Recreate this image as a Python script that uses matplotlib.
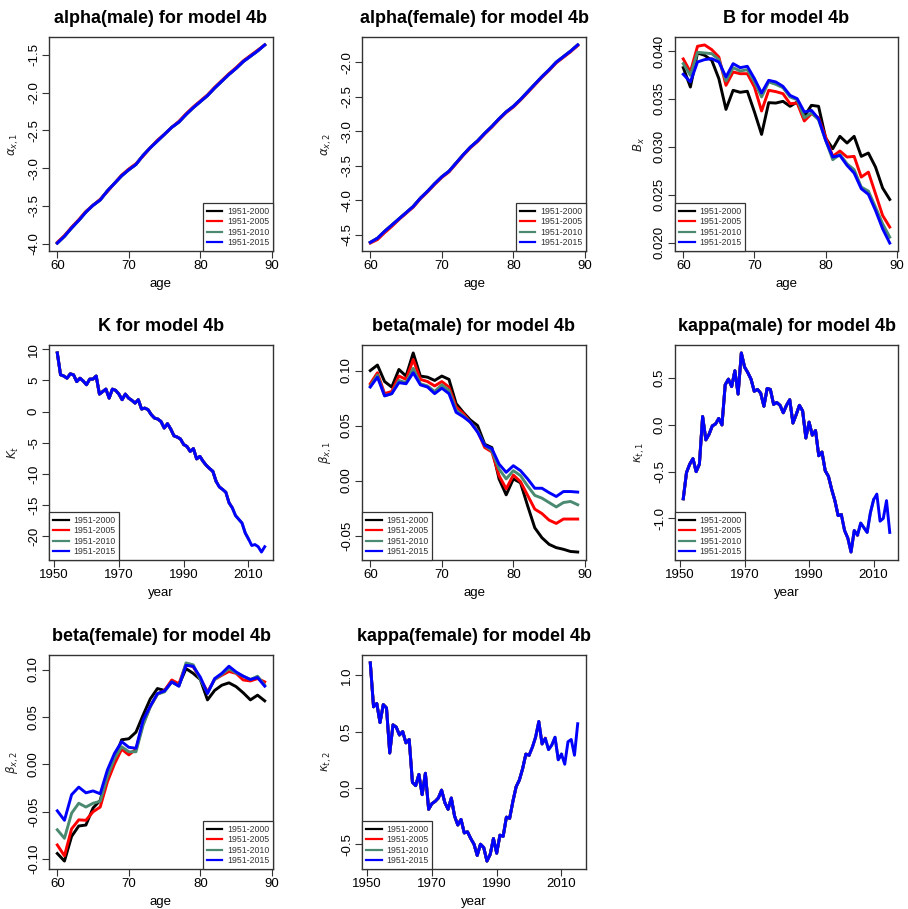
import matplotlib
matplotlib.use("Agg")
import matplotlib.pyplot as plt
import numpy as np
from matplotlib.ticker import FormatStrFormatter, FixedLocator

plt.rcParams['font.family'] = ['Liberation Sans', 'DejaVu Sans']
plt.rcParams['axes.unicode_minus'] = False
plt.rcParams['mathtext.fontset'] = 'dejavusans'

ages = np.arange(60, 90)
years = np.arange(1951, 2016)
periods = ['1951-2000', '1951-2005', '1951-2010', '1951-2015']
end_years = [2000, 2005, 2010, 2015]
colors = ['black', 'red', '#4a8a70', 'blue']

# alpha (male)
alpha_m_a = [-3.99, -3.90, -3.79, -3.69, -3.58, -3.49, -3.42, -3.30, -3.20, -3.10,
             -3.02, -2.95, -2.83, -2.73, -2.64, -2.55, -2.46, -2.39, -2.29, -2.20,
             -2.12, -2.04, -1.94, -1.85, -1.76, -1.68, -1.59, -1.52, -1.45, -1.37]
alpha_m_b = [-3.98, -3.89, -3.78, -3.68, -3.57, -3.49, -3.41, -3.31, -3.20, -3.09,
             -3.01, -2.94, -2.84, -2.73, -2.63, -2.55, -2.46, -2.38, -2.28, -2.19,
             -2.11, -2.03, -1.93, -1.84, -1.75, -1.67, -1.58, -1.51, -1.44, -1.37]
# alpha (female)
alpha_f_a = [-4.61, -4.55, -4.45, -4.36, -4.27, -4.18, -4.09, -3.97, -3.87, -3.76,
             -3.66, -3.58, -3.46, -3.34, -3.23, -3.14, -3.03, -2.93, -2.82, -2.72,
             -2.64, -2.54, -2.43, -2.32, -2.21, -2.11, -2.00, -1.92, -1.84, -1.75]
alpha_f_b = [-4.62, -4.57, -4.47, -4.38, -4.28, -4.19, -4.10, -3.98, -3.88, -3.77,
             -3.67, -3.59, -3.47, -3.35, -3.24, -3.15, -3.04, -2.94, -2.83, -2.73,
             -2.65, -2.55, -2.44, -2.33, -2.22, -2.12, -2.01, -1.93, -1.85, -1.76]

# B_x
B_2000 = [0.03826, 0.03624, 0.03979, 0.03955, 0.03903, 0.03711, 0.03391, 0.03590, 0.03569, 0.03580,
          0.03364, 0.03130, 0.03461, 0.03457, 0.03475, 0.03423, 0.03468, 0.03318, 0.03433, 0.03423,
          0.03092, 0.02981, 0.03110, 0.03040, 0.03110, 0.02901, 0.02936, 0.02790, 0.02571, 0.02452]
B_2005 = [0.03917, 0.03781, 0.04049, 0.04063, 0.04014, 0.03937, 0.03642, 0.03781, 0.03763, 0.03763,
          0.03624, 0.03374, 0.03590, 0.03576, 0.03555, 0.03450, 0.03457, 0.03270, 0.03346, 0.03304,
          0.03103, 0.02901, 0.02957, 0.02894, 0.02901, 0.02685, 0.02737, 0.02511, 0.02285, 0.02164]
B_2010 = [0.03868, 0.03746, 0.03986, 0.03979, 0.03972, 0.03910, 0.03687, 0.03826, 0.03791, 0.03805,
          0.03677, 0.03520, 0.03677, 0.03652, 0.03617, 0.03520, 0.03492, 0.03304, 0.03353, 0.03283,
          0.03068, 0.02866, 0.02922, 0.02824, 0.02762, 0.02581, 0.02539, 0.02372, 0.02198, 0.02059]
B_2015 = [0.03757, 0.03677, 0.03885, 0.03910, 0.03920, 0.03885, 0.03729, 0.03868, 0.03826, 0.03840,
          0.03711, 0.03562, 0.03694, 0.03677, 0.03631, 0.03537, 0.03503, 0.03364, 0.03381, 0.03294,
          0.03068, 0.02894, 0.02911, 0.02807, 0.02727, 0.02564, 0.02505, 0.02338, 0.02146, 0.01997]

# K_t
K_t = [9.4, 5.9, 5.7, 5.35, 6.05, 5.9, 4.8, 5.35, 4.9, 4.3,
       5.2, 5.2, 5.7, 2.8, 3.2, 3.6, 2.15, 3.6, 3.4, 2.8,
       1.9, 2.8, 2.15, 1.8, 1.35, 1.9, 0.4, 0.55, 0.3, -0.5,
       -1.05, -1.2, -1.6, -2.65, -1.95, -2.8, -3.9, -4.1, -4.4, -5.3,
       -5.6, -6.4, -5.95, -7.6, -7.2, -8.0, -8.65, -9.15, -9.6, -11.2,
       -12.1, -12.5, -12.95, -14.65, -15.45, -16.7, -17.3, -17.9, -19.5, -20.45,
       -21.5, -21.35, -21.7, -22.55, -21.7]

# beta (male)
beta_m_2000 = [0.100, 0.105, 0.090, 0.085, 0.101, 0.095, 0.116, 0.095, 0.094, 0.091,
               0.095, 0.092, 0.070, 0.062, 0.055, 0.050, 0.033, 0.030, 0.0015, -0.013,
               0.0015, -0.002, -0.023, -0.043, -0.052, -0.058, -0.061, -0.0625, -0.0645, -0.065]
beta_m_2005 = [0.088, 0.098, 0.079, 0.081, 0.095, 0.092, 0.110, 0.092, 0.090, 0.086,
               0.090, 0.085, 0.067, 0.061, 0.053, 0.045, 0.030, 0.026, 0.0045, -0.0075,
               0.005, -0.001, -0.0135, -0.026, -0.030, -0.036, -0.039, -0.035, -0.035, -0.035]
beta_m_2010 = [0.086, 0.096, 0.077, 0.079, 0.091, 0.089, 0.102, 0.088, 0.086, 0.081,
               0.087, 0.082, 0.064, 0.059, 0.053, 0.045, 0.032, 0.027, 0.0105, 0.0015,
               0.009, 0.0045, -0.005, -0.0135, -0.016, -0.020, -0.024, -0.020, -0.019, -0.022]
beta_m_2015 = [0.085, 0.094, 0.077, 0.079, 0.089, 0.088, 0.098, 0.087, 0.085, 0.079,
               0.084, 0.079, 0.062, 0.058, 0.053, 0.044, 0.032, 0.029, 0.015, 0.0075,
               0.0135, 0.009, 0.0015, -0.007, -0.007, -0.011, -0.0145, -0.010, -0.010, -0.0105]

# kappa (male)
kappa_m = [-0.79, -0.51, -0.42, -0.36, -0.50, -0.42, 0.09, -0.16, -0.10, -0.01,
           0.01, 0.07, 0.00, 0.43, 0.49, 0.41, 0.58, 0.33, 0.77, 0.62,
           0.56, 0.49, 0.36, 0.38, 0.34, 0.20, 0.39, 0.38, 0.22, 0.24,
           0.21, 0.13, 0.21, 0.27, 0.02, 0.11, 0.21, 0.15, -0.14, 0.03,
           -0.11, -0.06, -0.33, -0.29, -0.49, -0.55, -0.69, -0.81, -0.97, -0.96,
           -1.13, -1.21, -1.36, -1.13, -1.18, -1.05, -1.10, -1.15, -0.94, -0.80,
           -0.74, -1.03, -1.00, -0.81, -1.15]

# beta (female)
beta_f_2000 = [-0.094, -0.102, -0.076, -0.065, -0.064, -0.046, -0.038, -0.009, 0.005, 0.026,
               0.027, 0.034, 0.052, 0.069, 0.080, 0.078, 0.087, 0.0835, 0.101, 0.096,
               0.0895, 0.068, 0.078, 0.0835, 0.086, 0.082, 0.0755, 0.068, 0.073, 0.067]
beta_f_2005 = [-0.085, -0.0965, -0.068, -0.0585, -0.059, -0.050, -0.045, -0.0185, 0.0005, 0.016,
               0.010, 0.016, 0.043, 0.061, 0.074, 0.078, 0.089, 0.085, 0.1055, 0.103,
               0.0905, 0.0765, 0.0895, 0.094, 0.098, 0.096, 0.089, 0.088, 0.0905, 0.087]
beta_f_2010 = [-0.069, -0.078, -0.0515, -0.041, -0.045, -0.041, -0.039, -0.013, 0.0063, 0.0186,
               0.0133, 0.0133, 0.0414, 0.0607, 0.074, 0.0765, 0.087, 0.0825, 0.107, 0.105,
               0.0895, 0.0755, 0.0895, 0.095, 0.101, 0.0965, 0.093, 0.0895, 0.093, 0.0835]
beta_f_2015 = [-0.049, -0.059, -0.032, -0.024, -0.030, -0.028, -0.031, -0.006, 0.0116, 0.024,
               0.018, 0.017, 0.0467, 0.0614, 0.0747, 0.0775, 0.087, 0.0825, 0.1045, 0.1035,
               0.092, 0.0747, 0.0905, 0.096, 0.1035, 0.0975, 0.093, 0.0895, 0.0916, 0.0825]

# kappa (female)
kappa_f = [1.11, 0.72, 0.75, 0.58, 0.74, 0.71, 0.31, 0.56, 0.54, 0.47,
           0.50, 0.40, 0.43, 0.05, 0.02, 0.12, -0.06, 0.13, -0.19, -0.14,
           -0.12, -0.09, -0.02, -0.13, -0.19, -0.09, -0.25, -0.33, -0.28, -0.40,
           -0.39, -0.45, -0.50, -0.60, -0.50, -0.53, -0.65, -0.59, -0.45, -0.58,
           -0.42, -0.43, -0.26, -0.27, -0.12, 0.01, 0.07, 0.17, 0.30, 0.29,
           0.36, 0.45, 0.59, 0.39, 0.44, 0.34, 0.38, 0.45, 0.25, 0.30,
           0.21, 0.41, 0.43, 0.29, 0.57]

W, H = 908, 909
fig = plt.figure(figsize=(W / 100, H / 100), dpi=100)


def make_ax(x0, y0, x1, y1):
    return fig.add_axes([x0 / W, 1 - y1 / H, (x1 - x0) / W, (y1 - y0) / H])


def panel(ax, x, series, title, ylabel, xlabel, yticks, fmt, loc, xticks):
    for s, c, lab in zip(series, colors, periods):
        ax.plot(x[:len(s)], s, color=c, lw=2.1, label=lab, solid_joinstyle='round')
    ax.margins(x=0.04, y=0.04)
    ax.set_title(title, fontsize=13, fontweight='bold', pad=10)
    ax.set_xlabel(xlabel, fontsize=9.5, labelpad=4)
    ax.set_ylabel(ylabel, fontsize=8.5, labelpad=5, color='#222222')
    ax.xaxis.set_major_locator(FixedLocator(xticks))
    ax.yaxis.set_major_locator(FixedLocator(yticks))
    ax.yaxis.set_major_formatter(FormatStrFormatter(fmt))
    ax.tick_params(length=5, width=0.8, labelsize=9.5, pad=1.5, color='#333333')
    ax.tick_params(axis='y', labelrotation=90)
    for t in ax.get_yticklabels():
        t.set_va('center')
    for sp in ax.spines.values():
        sp.set_linewidth(1.0)
        sp.set_color('#333333')
    leg = ax.legend(loc=loc, fontsize=6.3, frameon=True, fancybox=False,
                    borderaxespad=0, handlelength=1.8, handletextpad=0.5,
                    labelspacing=0.15, borderpad=0.45, framealpha=1)
    leg.get_frame().set_edgecolor('#333333')
    leg.get_frame().set_linewidth(0.9)
    for line in leg.get_lines():
        line.set_linewidth(1.6)
    for t in leg.get_texts():
        t.set_color('#333333')


cols = [(49, 273), (362, 586), (675, 898)]
rows = [(37, 251), (345, 560), (655, 869)]
age_ticks = [60, 70, 80, 90]
year_ticks = [1950, 1970, 1990, 2010]

ax = make_ax(cols[0][0], rows[0][0], cols[0][1], rows[0][1])
panel(ax, ages, [alpha_m_a, alpha_m_b, alpha_m_a, alpha_m_a], 'alpha(male) for model 4b',
      r'$\alpha_{x,1}$', 'age', [-4.0, -3.5, -3.0, -2.5, -2.0, -1.5], '%.1f', 'lower right', age_ticks)

ax = make_ax(cols[1][0], rows[0][0], cols[1][1], rows[0][1])
panel(ax, ages, [alpha_f_a, alpha_f_b, alpha_f_a, alpha_f_a], 'alpha(female) for model 4b',
      r'$\alpha_{x,2}$', 'age', [-4.5, -4.0, -3.5, -3.0, -2.5, -2.0], '%.1f', 'lower right', age_ticks)

ax = make_ax(cols[2][0], rows[0][0], cols[2][1], rows[0][1])
panel(ax, ages, [B_2000, B_2005, B_2010, B_2015], 'B for model 4b',
      r'$B_x$', 'age', [0.020, 0.025, 0.030, 0.035, 0.040], '%.3f', 'lower left', age_ticks)

ax = make_ax(cols[0][0], rows[1][0], cols[0][1], rows[1][1])
panel(ax, years, [K_t[:e - 1950] for e in end_years], 'K for model 4b',
      r'$K_t$', 'year', [-20, -15, -10, -5, 0, 5, 10], '%d', 'lower left', year_ticks)

ax = make_ax(cols[1][0], rows[1][0], cols[1][1], rows[1][1])
panel(ax, ages, [beta_m_2000, beta_m_2005, beta_m_2010, beta_m_2015], 'beta(male) for model 4b',
      r'$\beta_{x,1}$', 'age', [-0.05, 0.00, 0.05, 0.10], '%.2f', 'lower left', age_ticks)

ax = make_ax(cols[2][0], rows[1][0], cols[2][1], rows[1][1])
panel(ax, years, [kappa_m[:e - 1950] for e in end_years], 'kappa(male) for model 4b',
      r'$\kappa_{t,1}$', 'year', [-1.0, -0.5, 0.0, 0.5], '%.1f', 'lower left', year_ticks)

ax = make_ax(cols[0][0], rows[2][0], cols[0][1], rows[2][1])
panel(ax, ages, [beta_f_2000, beta_f_2005, beta_f_2010, beta_f_2015], 'beta(female) for model 4b',
      r'$\beta_{x,2}$', 'age', [-0.10, -0.05, 0.00, 0.05, 0.10], '%.2f', 'lower right', age_ticks)

ax = make_ax(cols[1][0], rows[2][0], cols[1][1], rows[2][1])
panel(ax, years, [kappa_f[:e - 1950] for e in end_years], 'kappa(female) for model 4b',
      r'$\kappa_{t,2}$', 'year', [-0.5, 0.0, 0.5, 1.0], '%.1f', 'lower left', year_ticks)

fig.savefig('out.png', dpi=100)
